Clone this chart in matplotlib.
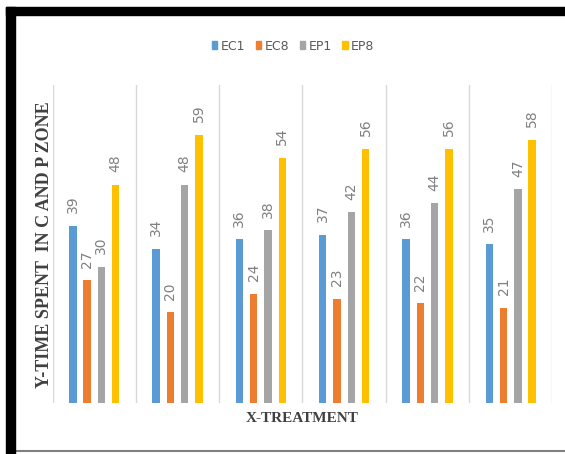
import numpy as np
import matplotlib
matplotlib.use("Agg")
import matplotlib.pyplot as plt
from matplotlib.patches import Rectangle
from matplotlib.lines import Line2D
from matplotlib import font_manager

treatments = ["T1", "T2", "T3", "T4", "T5", "T6"]
series_names = ["EC1", "EC8", "EP1", "EP8"]
ec1 = [39, 34, 36, 37, 36, 35]
ec8 = [27, 20, 24, 23, 22, 21]
ep1 = [30, 48, 38, 42, 44, 47]
ep8 = [48, 59, 54, 56, 56, 58]
colors = ["#5B9BD5", "#ED7D31", "#A5A5A5", "#FFC000"]

# narrow sans for legend and value labels, if available
names = {f.name for f in font_manager.fontManager.ttflist}
narrow = "Liberation Sans Narrow" if "Liberation Sans Narrow" in names else "DejaVu Sans"

W, H = 565, 454
fig = plt.figure(figsize=(W / 100, H / 100), dpi=100)
fig.patch.set_facecolor("white")

# plot area in pixel coordinates (left, top, right, bottom)
left, top, right, bottom = 52.6, 85, 552.4, 403
ax = fig.add_axes([left / W, 1 - bottom / H, (right - left) / W, (bottom - top) / H])

x = np.arange(len(treatments))
step, width = 0.172, 0.09
for i, (vals, col) in enumerate(zip([ec1, ec8, ep1, ep8], colors)):
    bars = ax.bar(x + (i - 1.5) * step, vals, width=width, color=col,
                  label=series_names[i], zorder=3)
    ax.bar_label(bars, labels=[str(v) for v in vals], rotation=90,
                 padding=9, fontsize=10, color="#808080", family=narrow)

ax.set_xlim(-0.5, len(treatments) - 0.5)
ax.set_ylim(0, 70)
ax.set_xticks([])
ax.set_yticks([])
for xv in np.arange(-0.5, len(treatments)):
    ax.axvline(xv, color="#D9D9D9", lw=1.0, zorder=1)
for s in ax.spines.values():
    s.set_visible(False)

# axis titles
fig.text(45 / W, 1 - 245 / H, "Y-TIME SPENT  IN C AND P ZONE", rotation=90,
         ha="center", va="center", family="Liberation Serif",
         fontweight="bold", fontsize=13, color="#404040")
fig.text(302 / W, 1 - 418 / H, "X-TREATMENT", ha="center", va="center",
         family="Liberation Serif", fontweight="bold", fontsize=11,
         color="#404040")

# legend
handles = [Rectangle((0, 0), 1, 1, color=c) for c in colors]
fig.legend(handles, series_names, loc="center", bbox_to_anchor=(293 / W, 1 - 46 / H),
           ncol=4, frameon=False, prop={"family": narrow, "size": 9},
           handlelength=0.45, handleheight=0.65, handletextpad=0.25,
           columnspacing=0.85, labelcolor="#595959")

# frame around the chart
fig.patches.append(Rectangle((6 / W, 0), 9 / W, 1 - 7 / H, transform=fig.transFigure,
                             color="black", zorder=10))
fig.patches.append(Rectangle((6 / W, 1 - 15 / H), 1 - 6 / W, 8 / H,
                             transform=fig.transFigure, color="black", zorder=10))
fig.lines.append(Line2D([15 / W, 1], [1 - 451 / H, 1 - 451 / H],
                        transform=fig.transFigure, color="#7F7F7F", lw=1.5))

fig.savefig("out.png", dpi=100)
